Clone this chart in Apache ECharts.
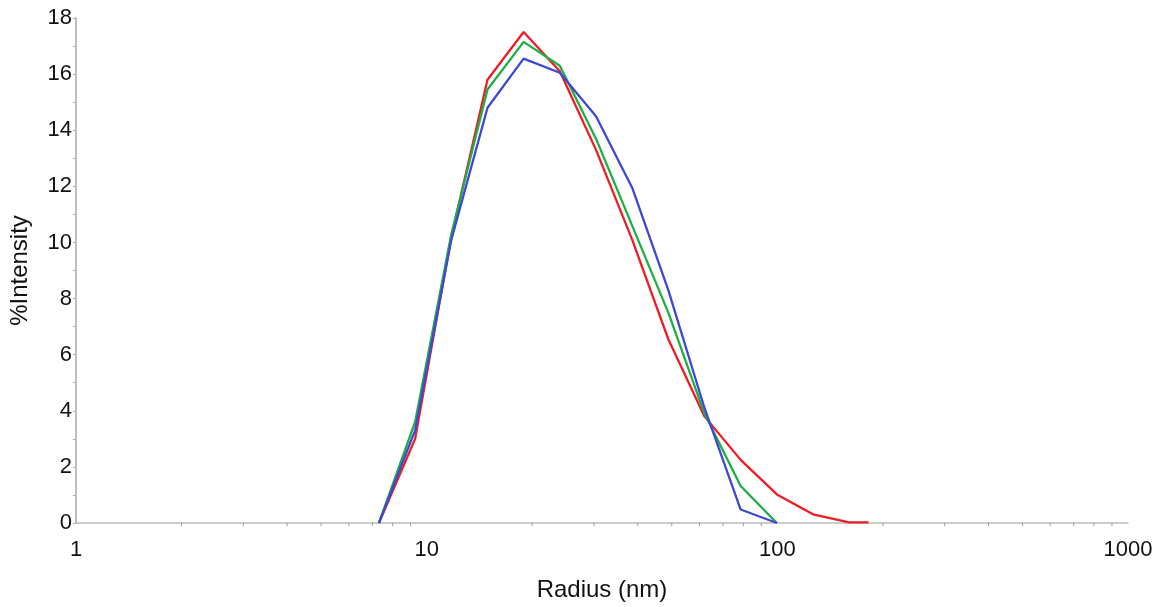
<!DOCTYPE html>
<html>
<head>
<meta charset="utf-8">
<script src="https://cdn.jsdelivr.net/npm/echarts@6/dist/echarts.min.js"></script>
<style>html,body{margin:0;padding:0;background:#fff}#c{width:1157px;height:607px}</style>
</head>
<body>
<div id="c"></div>
<script>
const radius = [7.31, 9.27, 11.76, 14.91, 18.90, 23.97, 30.40, 38.55, 48.88, 61.98, 78.6, 99.7, 126.4, 160.3, 182];
const redVals = [0, 3.0, 10.2, 15.8, 17.5, 16.1, 13.3, 10.1, 6.55, 3.8, 2.25, 1.02, 0.31, 0.02, 0.02];
const greenVals = [0, 3.6, 10.3, 15.45, 17.15, 16.3, 13.7, 10.6, 7.5, 3.9, 1.32, 0];
const blueVals = [0, 3.3, 10.1, 14.8, 16.55, 16.05, 14.5, 11.95, 8.3, 4.1, 0.48, 0];
const xMinorTicks = [2,3,4,5,6,7,8,9,20,30,40,50,60,70,80,90,200,300,400,500,600,700,800,900];
const xLabels = [1, 10, 100, 1000];

const pairs = vals => vals.map((v, i) => [radius[i], v]);
const font = '"Liberation Sans", Arial, sans-serif';

const chart = echarts.init(document.getElementById('c'), null, {renderer: 'canvas'});
chart.setOption({
  animation: false,
  backgroundColor: '#fff',
  grid: {left: 76, right: 29, top: 18, bottom: 79, containLabel: false},
  xAxis: {
    type: 'log', logBase: 10, min: 1, max: 1000,
    name: 'Radius (nm)', nameLocation: 'middle', nameGap: 55,
    nameTextStyle: {fontFamily: font, fontSize: 24, color: '#111'},
    axisLine: {show: true, lineStyle: {color: '#b8c0b4', width: 1.5}},
    axisTick: {show: false},
    axisLabel: {fontFamily: font, fontSize: 22, color: '#111', margin: 16,
      formatter: v => xLabels.includes(Math.round(v)) ? String(Math.round(v)) : ''},
    splitLine: {show: false}
  },
  yAxis: {
    type: 'value', min: 0, max: 18, interval: 2,
    name: '%Intensity', nameLocation: 'middle', nameGap: 44,
    nameTextStyle: {fontFamily: font, fontSize: 24, color: '#111'},
    axisLine: {show: true, lineStyle: {color: '#aaaaaa', width: 1.5}},
    axisTick: {show: true, length: 3, lineStyle: {color: '#aaa'}},
    minorTick: {show: true, splitNumber: 2, length: 3, lineStyle: {color: '#aaa'}},
    axisLabel: {fontFamily: font, fontSize: 22, color: '#111', margin: 4},
    splitLine: {show: false}
  },
  series: [
    {
      type: 'custom', silent: true, z: 1,
      data: xMinorTicks.map(v => [v, 0]),
      renderItem: (params, api) => {
        const p = api.coord([api.value(0), 0]);
        return {type: 'line', shape: {x1: p[0], y1: p[1], x2: p[0], y2: p[1] + 3},
          style: {stroke: '#999', lineWidth: 1}};
      }
    },
    {type: 'line', data: pairs(redVals), showSymbol: false, symbol: 'none',
      lineStyle: {color: '#ee1c25', width: 2.3}, itemStyle: {color: '#ee1c25'}, z: 3},
    {type: 'line', data: pairs(greenVals), showSymbol: false, symbol: 'none',
      lineStyle: {color: '#1fae45', width: 2.3}, itemStyle: {color: '#1fae45'}, z: 4},
    {type: 'line', data: pairs(blueVals), showSymbol: false, symbol: 'none',
      lineStyle: {color: '#3d48d4', width: 2.3}, itemStyle: {color: '#3d48d4'}, z: 5}
  ]
});
</script>
</body>
</html>
